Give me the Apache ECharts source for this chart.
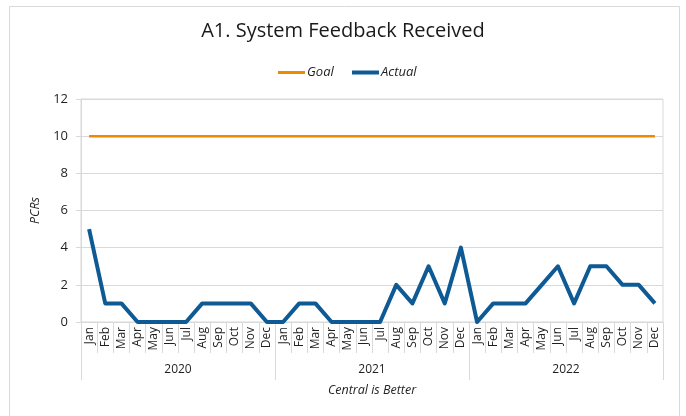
<!DOCTYPE html>
<html>
<head>
<meta charset="utf-8">
<script src="https://cdn.jsdelivr.net/npm/echarts@6/dist/echarts.min.js"></script>
<style>html,body{margin:0;padding:0;background:#fff}#c{width:686px;height:416px}</style>
</head>
<body>
<div id="c"></div>
<script>
const months = ['Jan','Feb','Mar','Apr','May','Jun','Jul','Aug','Sep','Oct','Nov','Dec',
                'Jan','Feb','Mar','Apr','May','Jun','Jul','Aug','Sep','Oct','Nov','Dec',
                'Jan','Feb','Mar','Apr','May','Jun','Jul','Aug','Sep','Oct','Nov','Dec'];
const years = ['2020','2021','2022'];
const goal = [10,10,10,10,10,10,10,10,10,10,10,10,
              10,10,10,10,10,10,10,10,10,10,10,10,
              10,10,10,10,10,10,10,10,10,10,10,10];
const actual = [5,1,1,0,0,0,0,1,1,1,1,0,
                0,1,1,0,0,0,0,2,1,3,1,4,
                0,1,1,1,2,3,1,3,3,2,2,1];
const yTicks = {min:0, max:12, interval:2};

const FONT = '"Open Sans", "Noto Sans", sans-serif';
const TXT = '#1f1f1f';
const GRID = '#d9d9d9';
const ORANGE = '#ED8B00';
const BLUE = '#0E5A95';

const chart = echarts.init(document.getElementById('c'), null, {renderer:'canvas'});
chart.setOption({
  animation:false,
  textStyle:{fontFamily:FONT, color:TXT},
  title:{text:'A1. System Feedback Received', left:'center', top:16,
    textStyle:{fontFamily:FONT, fontSize:20, fontWeight:'normal', color:'#1a1a1a'}},
  legend:[
    {data:[{name:'Goal'}], left:273, top:61, icon:'rect', itemWidth:27, itemHeight:3, itemGap:6,
     textStyle:{fontFamily:FONT, fontSize:13, fontStyle:'italic', color:TXT, padding:[0,0,0,-3]}},
    {data:[{name:'Actual'}], left:347, top:61, icon:'rect', itemWidth:27, itemHeight:4, itemGap:6,
     textStyle:{fontFamily:FONT, fontSize:13, fontStyle:'italic', color:TXT, padding:[0,0,0,-3]}}
  ],
  graphic:[{type:'rect', shape:{x:9.5, y:6.5, width:670, height:420}, style:{fill:null, stroke:GRID, lineWidth:1}, silent:true}],
  grid:{left:81, right:23, top:99, bottom:94, show:true, borderColor:GRID, borderWidth:1},
  xAxis:[
    {type:'category', data:months, boundaryGap:true,
     axisLine:{lineStyle:{color:GRID}},
     axisTick:{show:true, interval:0, length:31, lineStyle:{color:GRID}},
     axisLabel:{interval:0, rotate:90, fontSize:12, color:TXT, margin:5, fontFamily:FONT}},
    {type:'category', data:years, boundaryGap:true, position:'bottom', offset:0,
     axisLine:{show:false},
     axisTick:{show:true, interval:0, length:58, lineStyle:{color:GRID}},
     axisLabel:{interval:0, fontSize:12, color:TXT, margin:42, fontFamily:FONT},
     name:'Central is Better', nameLocation:'middle', nameGap:62,
     nameTextStyle:{fontFamily:FONT, fontSize:12.5, fontStyle:'italic', color:TXT}}
  ],
  yAxis:{type:'value', min:yTicks.min, max:yTicks.max, interval:yTicks.interval,
    name:'PCRs', nameLocation:'middle', nameGap:38, nameRotate:90,
    nameTextStyle:{fontFamily:FONT, fontSize:12.5, fontStyle:'italic', color:TXT},
    axisLine:{show:true, lineStyle:{color:GRID}},
    axisTick:{show:true, length:5, lineStyle:{color:GRID}},
    axisLabel:{fontSize:13, color:TXT, margin:13, fontFamily:FONT},
    splitLine:{lineStyle:{color:GRID}}},
  series:[
    {name:'Goal', type:'line', data:goal, showSymbol:false, symbol:'circle', symbolSize:3,
     itemStyle:{color:ORANGE}, lineStyle:{color:ORANGE, width:2.5}},
    {name:'Actual', type:'line', data:actual, showSymbol:false, symbol:'circle', symbolSize:4,
     itemStyle:{color:BLUE}, lineStyle:{color:BLUE, width:4, join:'round'}}
  ]
});
</script>
</body>
</html>
